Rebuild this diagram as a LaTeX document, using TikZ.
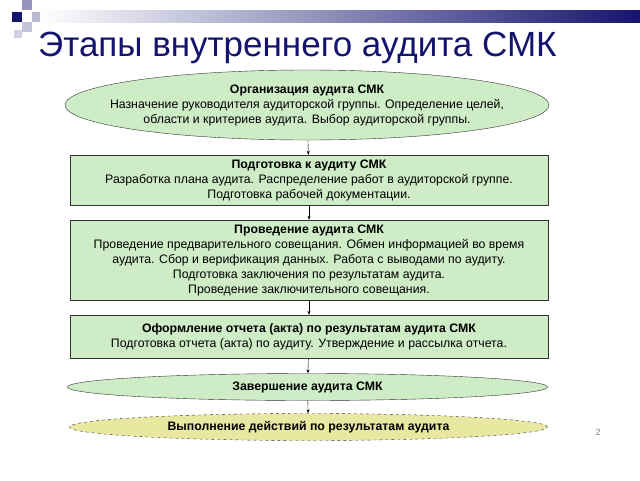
\documentclass[tikz,border=0pt]{standalone}
\usepackage{fontspec}
\setmainfont{Liberation Sans}
\usetikzlibrary{shapes.geometric,arrows.meta}
\definecolor{navy}{RGB}{20,20,110}
\definecolor{lgreen}{RGB}{206,236,198}
\definecolor{lyellow}{RGB}{232,232,160}
\tikzset{x=1pt,y=-1pt,
 stage/.style={draw=black!80,fill=lgreen,align=center,font=\fontsize{12.3}{15}\selectfont,inner sep=0pt},
 box/.style={stage,rectangle,minimum width=478pt},
 oval/.style={stage,ellipse,inner sep=0pt},
 arr/.style={-{Stealth[length=4pt,width=3pt]},black}}
\begin{document}
\begin{tikzpicture}
\useasboundingbox (0,0) rectangle (640,480);
\fill[white] (0,0) rectangle (640,480);
% decoration
\fill[left color=white,right color=navy] (40,10) rectangle (640,22);
\fill[navy] (12,12) rectangle (22,22);
\fill[navy!45] (22,0) rectangle (32,10);
\fill[navy!25] (22,22) rectangle (32,32);
\fill[navy!30] (32,12) rectangle (40,22);
\fill[navy!20] (14,30) rectangle (22,38);
\node[anchor=west,text=navy,font=\fontsize{35}{38}\selectfont,inner sep=0pt] (title) at (38,48) {Этапы внутреннего аудита СМК};
\node[oval,minimum width=484pt,minimum height=70pt] (s1) at (307,105) {};
\node[align=center,font=\fontsize{12.3}{15}\selectfont,inner sep=0pt] (s1t) at (s1.center)
 {\textbf{Организация аудита СМК}\\Назначение руководителя аудиторской группы. Определение целей,\\области и критериев аудита. Выбор аудиторской группы.};
\node[box,minimum height=50pt] (s2) at (309,180)
 {\textbf{Подготовка к аудиту СМК}\\Разработка плана аудита. Распределение работ в аудиторской группе.\\Подготовка рабочей документации.};
\node[box,minimum height=80pt] (s3) at (309,260)
 {\textbf{Проведение аудита СМК}\\Проведение предварительного совещания. Обмен информацией во время\\аудита. Сбор и верификация данных. Работа с выводами по аудиту.\\Подготовка заключения по результатам аудита.\\Проведение заключительного совещания.};
\node[box,minimum height=43pt] (s4) at (309,336.5)
 {\textbf{Оформление отчета (акта) по результатам аудита СМК}\\Подготовка отчета (акта) по аудиту. Утверждение и рассылка отчета.};
\node[oval,minimum width=480pt,minimum height=27pt] (s5) at (307.5,387)
 {\textbf{Завершение аудита СМК}};
\node[oval,fill=lyellow,dashed,minimum width=478pt,minimum height=27pt] (s6) at (308.5,427)
 {\textbf{Выполнение действий по результатам аудита}};
\draw[arr] (s1) -- (s2);
\draw[arr] (s2) -- (s3);
\draw[arr] (s3) -- (s4);
\draw[arr] (s4) -- (s5);
\draw[arr] (s5) -- (s6);
\node[text=black!50,font=\fontsize{9}{10}\selectfont] (pg) at (598,432) {2};
\end{tikzpicture}
\end{document}
